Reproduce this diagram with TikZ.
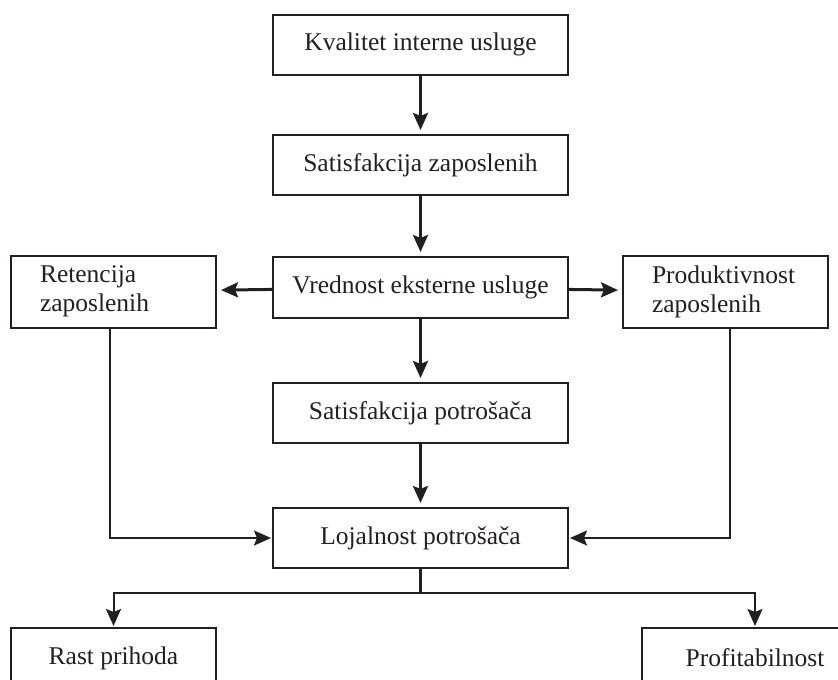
\documentclass[tikz,border=0pt]{standalone}
\usepackage{fontspec}
\setmainfont{Liberation Serif}
\usepackage{xcolor}
\usetikzlibrary{arrows.meta}

\definecolor{ink}{HTML}{231F20}

\begin{document}
\begin{tikzpicture}[
    x=1pt, y=1pt,
    box/.style={draw=ink, text=ink, line width=2pt, minimum width=295pt, minimum height=60pt, inner sep=0pt, align=center, font=\fontsize{25.5}{29}\selectfont},
    sidebox/.style={box, minimum width=0pt, text width=147pt, inner xsep=29pt, align=left, minimum height=72pt},
    arrow/.style={->, draw=ink, line width=3pt, >={Stealth[length=17pt 0 0,width=15pt 0 0,inset=3pt]}, shorten >=4pt},
    link/.style={->, draw=ink, line width=2pt, >={Stealth[length=17pt 0 0,width=15pt 0 0,inset=3pt]}, shorten >=1pt}
]
    \useasboundingbox (0,0) rectangle (838,-680);

    % Main column
    \node[box] (kvalitet) at (420.5, -44.5) {Kvalitet interne usluge};
    \node[box] (satzap) at (420.5, -165) {Satisfakcija zaposlenih};
    \node[box, minimum height=61pt] (vrednost) at (420.5, -287.5) {Vrednost eksterne usluge};
    \node[box] (satpot) at (420.5, -413) {Satisfakcija potrošača};
    \node[box] (lojalnost) at (420.5, -538) {Lojalnost potrošača};

    % Side boxes
    \node[sidebox] (retencija) at (113.5, -291.5) {Retencija\\zaposlenih};
    \node[sidebox] (produktivnost) at (725.5, -291.5) {Produktivnost\\zaposlenih};

    % Results
    \node[box, minimum width=205pt] (rast) at (113.5, -658) {Rast prihoda};
    \node[box, minimum width=226pt] (profit) at (755, -658) {Profitabilnost};

    % Arrows
    \draw[arrow] (kvalitet) -- (satzap);
    \draw[arrow] (satzap) -- (vrednost);
    \draw[arrow] (vrednost) -- (retencija);
    \draw[arrow] (vrednost) -- (produktivnost);
    \draw[arrow] (vrednost) -- (satpot);
    \draw[arrow] (satpot) -- (lojalnost);
    \draw[link] ([xshift=-4pt]retencija.south) |- (lojalnost.west);
    \draw[link] ([xshift=4pt]produktivnost.south) |- (lojalnost.east);

    \draw[draw=ink, line width=2.5pt] (lojalnost.south) -- ++(0,-24) coordinate (split);
    \draw[link] (split) -| (rast.north);
    \draw[link] (split) -| (profit.north);
\end{tikzpicture}
\end{document}
